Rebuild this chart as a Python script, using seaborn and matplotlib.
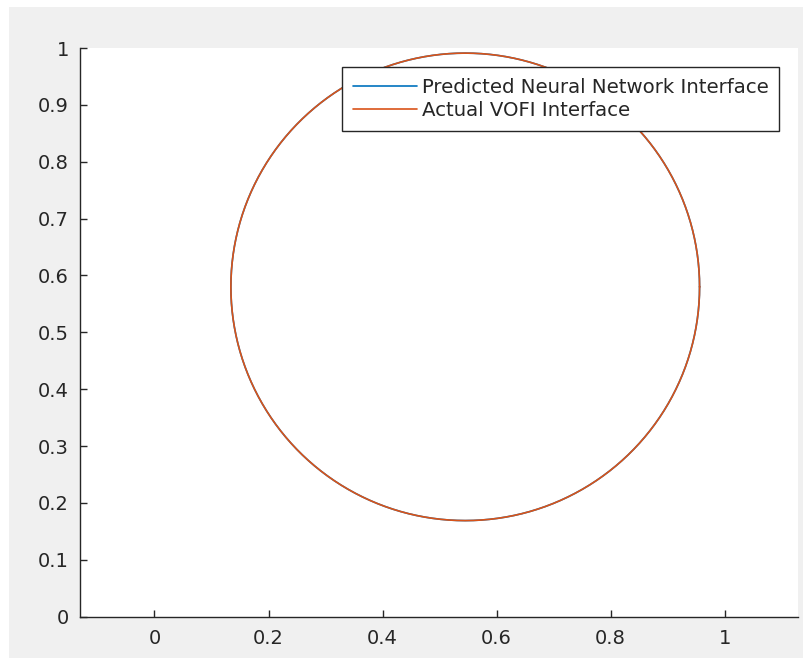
import numpy as np
import pandas as pd
import matplotlib
matplotlib.use("Agg")
import matplotlib.pyplot as plt
from matplotlib.patches import Rectangle
import seaborn as sns

# Interface circles: centre (x, y) and radius of each fitted interface
series_names = ["Predicted Neural Network Interface", "Actual VOFI Interface"]
centre_x = [0.545, 0.545]
centre_y = [0.580, 0.580]
radius = [0.411, 0.411]
series_colors = ["#0072BD", "#D95319"]
series_widths = [0.6, 1.4]

x_ticks = [0, 0.2, 0.4, 0.6, 0.8, 1]
x_tick_labels = ["0", "0.2", "0.4", "0.6", "0.8", "1"]
y_ticks = [0, 0.1, 0.2, 0.3, 0.4, 0.5, 0.6, 0.7, 0.8, 0.9, 1]
y_tick_labels = ["0", "0.1", "0.2", "0.3", "0.4", "0.5", "0.6", "0.7", "0.8", "0.9", "1"]

sns.set_theme(style="white")
plt.rcParams["font.family"] = ["DejaVu Sans"]

theta = np.linspace(0, 2 * np.pi, 721)

W, H = 804, 658
fig = plt.figure(figsize=(W / 100, H / 100), dpi=100, facecolor="white")
fig.patches.append(Rectangle((9 / W, 0), 1 - 9 / W, 1 - 7 / H,
                             transform=fig.transFigure, facecolor="#f0f0f0",
                             edgecolor="none", zorder=-10))

ax = fig.add_axes([80 / W, 1 - 616.7 / H, (798.5 - 80) / W, (616.7 - 48) / H])
ax.set_facecolor("white")

for name, cx, cy, r, col, lw in zip(series_names, centre_x, centre_y, radius,
                                    series_colors, series_widths):
    df = pd.DataFrame({"x": cx + r * np.cos(theta), "y": cy + r * np.sin(theta)})
    sns.lineplot(data=df, x="x", y="y", estimator=None, sort=False,
                 color=col, linewidth=lw, label=name, ax=ax)

ax.set_xlim(-0.1306, 1.1295)
ax.set_ylim(0, 1)
ax.set_xlabel("")
ax.set_ylabel("")
ax.set_xticks(x_ticks)
ax.set_xticklabels(x_tick_labels)
ax.set_yticks(y_ticks)
ax.set_yticklabels(y_tick_labels)

for side in ["top", "right"]:
    ax.spines[side].set_visible(False)
for side in ["left", "bottom"]:
    ax.spines[side].set_color("#262626")
    ax.spines[side].set_linewidth(1.0)

ax.tick_params(axis="both", direction="in", length=5, width=1.0,
               color="#262626", labelcolor="#262626", labelsize=14,
               left=True, bottom=True)
ax.tick_params(axis="x", pad=9)
ax.tick_params(axis="y", pad=8)

handles, labels = ax.get_legend_handles_labels()
for h in handles:
    h.set_linewidth(1.2)
leg = ax.legend(handles, labels, loc="upper right", bbox_to_anchor=(0.9735, 0.9666),
                borderaxespad=0, fontsize=14.2, frameon=True, fancybox=False,
                handlelength=3.25, handletextpad=0.25, labelspacing=0.22,
                borderpad=0.55, framealpha=1.0)
leg.get_frame().set_edgecolor("#262626")
leg.get_frame().set_linewidth(1.0)
for t in leg.get_texts():
    t.set_color("#262626")

fig.savefig("out.png", dpi=100, facecolor=fig.get_facecolor())
